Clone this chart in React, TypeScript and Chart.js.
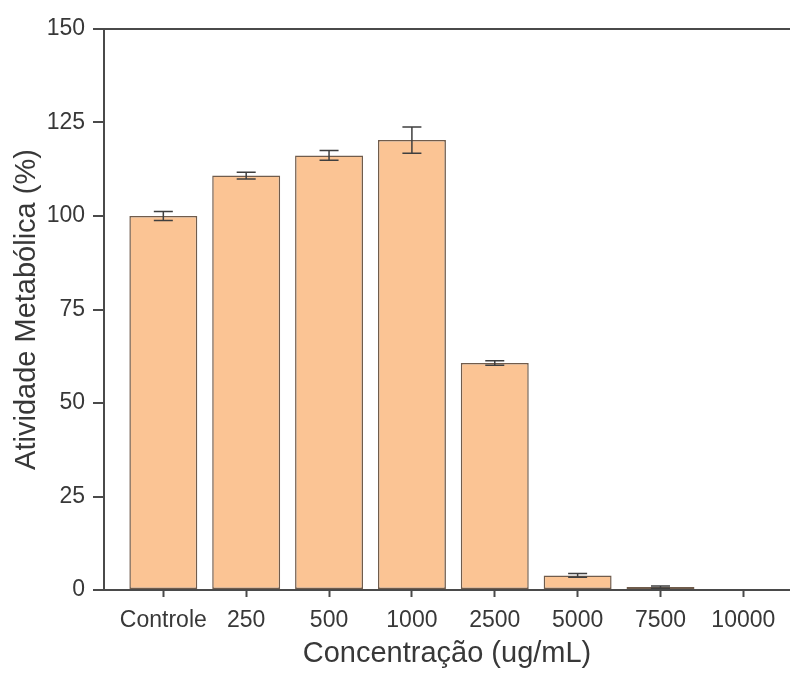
import React, { useEffect, useRef } from "react";
import { Chart, registerables } from "chart.js";

Chart.register(...registerables);

const categories = ["Controle", "250", "500", "1000", "2500", "5000", "7500", "10000"];
const values = [100, 110.8, 116.2, 120.3, 60.7, 3.9, 0.8, 0];
const errors = [1.2, 0.9, 1.3, 3.5, 0.6, 0.5, 0.3, 0];
const yTicks = [0, 25, 50, 75, 100, 125, 150];

const xTitle = "Concentração (ug/mL)";
const yTitle = "Atividade Metabólica (%)";

const FONT = "'Liberation Sans', Arial, Helvetica, sans-serif";
const AXIS = "#4a4a4a";
const TEXT = "#383838";

const errorBarPlugin = {
  id: "errorBars",
  afterDatasetsDraw(chart: any) {
    const meta = chart.getDatasetMeta(0);
    const yScale = chart.scales.y;
    const ctx = chart.ctx;
    ctx.save();
    ctx.strokeStyle = "#3f3f3f";
    ctx.lineWidth = 1.5;
    meta.data.forEach((bar: any, i: number) => {
      const e = errors[i];
      if (!e) return;
      const x = bar.x;
      const yTop = yScale.getPixelForValue(values[i] + e);
      const yBot = yScale.getPixelForValue(values[i] - e);
      const half = 9.5;
      ctx.beginPath();
      ctx.moveTo(x, yTop);
      ctx.lineTo(x, yBot);
      ctx.moveTo(x - half, yTop);
      ctx.lineTo(x + half, yTop);
      ctx.moveTo(x - half, yBot);
      ctx.lineTo(x + half, yBot);
      ctx.stroke();
    });
    ctx.restore();
  },
};

export default function App() {
  const ref = useRef<HTMLCanvasElement | null>(null);

  useEffect(() => {
    document.body.style.margin = "0";
    const canvas = ref.current;
    if (!canvas) return;
    const chart = new Chart(canvas, {
      type: "bar",
      data: {
        datasets: [
          {
            data: categories.map((c, i) => ({ x: i, y: values[i] })),
            backgroundColor: "rgb(251,196,148)",
            borderColor: "rgb(112,92,76)",
            borderWidth: 1.5,
            borderSkipped: false,
            categoryPercentage: 1,
            barPercentage: 0.82,
          } as any,
        ],
      },
      options: {
        animation: false,
        responsive: false,
        devicePixelRatio: 1,
        layout: { padding: { top: 29, left: 0, right: 0, bottom: 0 } },
        plugins: {
          legend: { display: false },
          tooltip: { enabled: false },
        },
        scales: {
          x: {
            type: "linear",
            offset: false,
            min: -0.716,
            max: 7.563,
            afterBuildTicks: (s: any) => {
              s.ticks = categories.map((c, i) => ({ value: i }));
            },
            afterFit: (s: any) => {
              s.height = 87;
            },
            ticks: {
              autoSkip: false,
              maxRotation: 0,
              minRotation: 0,
              padding: 10,
              color: TEXT,
              font: { family: FONT, size: 23 },
              callback: (v: any) => categories[Math.round(Number(v))] ?? "",
            },
            grid: {
              offset: false,
              drawOnChartArea: false,
              drawTicks: true,
              tickLength: 7,
              tickWidth: 2,
              tickColor: AXIS,
            },
            border: { display: true, color: AXIS, width: 2 },
            title: {
              display: true,
              text: xTitle,
              color: TEXT,
              font: { family: FONT, size: 29 },
              padding: { top: 0, bottom: 6 },
            },
          },
          y: {
            type: "linear",
            min: 0,
            max: 150,
            afterBuildTicks: (s: any) => {
              s.ticks = yTicks.map((v) => ({ value: v }));
            },
            afterFit: (s: any) => {
              s.width = 104;
            },
            ticks: {
              padding: 8,
              color: TEXT,
              font: { family: FONT, size: 23 },
            },
            grid: {
              drawOnChartArea: true,
              color: (c: any) => (c.tick && c.tick.value === 150 ? AXIS : "rgba(0,0,0,0)"),
              lineWidth: 2,
              tickLength: 11,
              tickWidth: 2,
              tickColor: AXIS,
            },
            border: { display: true, color: AXIS, width: 2 },
            title: {
              display: true,
              text: yTitle,
              color: TEXT,
              font: { family: FONT, size: 29 },
              padding: { top: 10, bottom: 0 },
            },
          },
        },
      },
      plugins: [errorBarPlugin],
    });
    return () => chart.destroy();
  }, []);

  return (
    <div style={{ width: 790, height: 677 }}>
      <canvas ref={ref} width={790} height={677} style={{ display: "block" }} />
    </div>
  );
}
